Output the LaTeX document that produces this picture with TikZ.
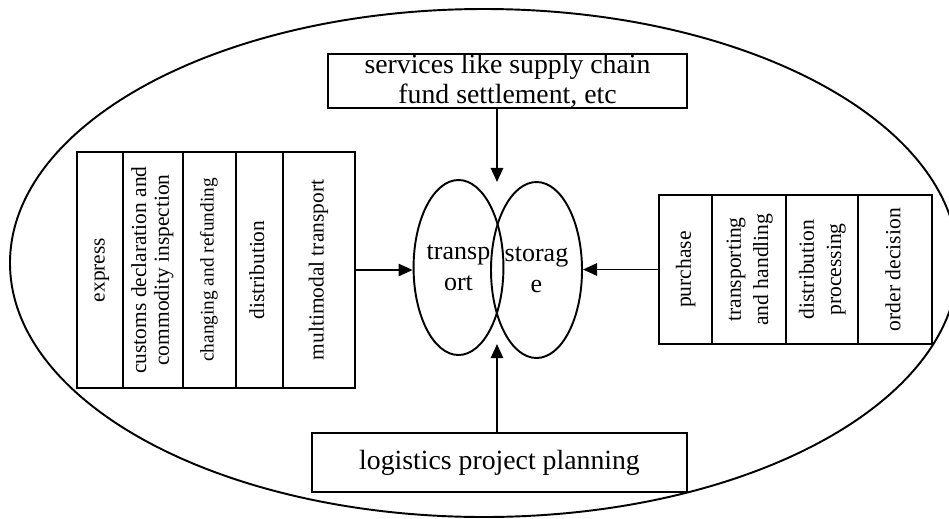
\documentclass[tikz,border=0pt]{standalone}
\usepackage{fontspec}
\setmainfont{Liberation Serif}
\usepackage{tikz}
\usetikzlibrary{arrows.meta,positioning,shapes.geometric}
\newcommand{\pxu}{0.02cm}
\newcommand{\vt}[1]{\rotatebox{90}{\begin{tabular}{@{}c@{}}#1\end{tabular}}}

\begin{document}
\begin{tikzpicture}[x=0.02cm, y=-0.02cm, >={Triangle[length=8pt,width=7pt]}, line width=1.1pt,
  box/.style={draw, outer sep=0pt, inner sep=0pt, align=center},
  col/.style={box, minimum height=236*\pxu, font=\fontsize{12.2}{13}\selectfont},
  rcol/.style={box, minimum height=149*\pxu, font=\fontsize{12.3}{15.5}\selectfont},
  wide/.style={box, font=\fontsize{15.8}{17}\selectfont},
  ring/.style={draw, ellipse, inner sep=0pt, align=center, font=\fontsize{14.8}{17.6}\selectfont}]
  \useasboundingbox (0,0) rectangle (949,518);
  \clip (0,0) rectangle (949,518);
  % outer boundary
  \draw (484,263) ellipse (474 and 254);
  % centre
  \node[ring, minimum width=89*\pxu, minimum height=175*\pxu] (tr) at (458.5,267.5) {transp\\ort};
  \node[ring, minimum width=91*\pxu, minimum height=176*\pxu] (st) at (536.5,270) {storag\\e};
  % top and bottom
  \node[wide, minimum width=359*\pxu, minimum height=50*\pxu] (svc) at (507.5,81) {services like supply chain\\fund settlement, etc};
  \node[wide, minimum width=375*\pxu, minimum height=59*\pxu] (plan) at (499.5,462.5) {logistics project planning};
  % left block
  \node[col, minimum width=46*\pxu, anchor=north west] (exp) at (77,152) {\vt{express}};
  \node[col, minimum width=60*\pxu, right=0pt of exp] (cus) {\vt{customs declaration and\\commodity inspection}};
  \node[col, minimum width=53*\pxu, right=0pt of cus, font=\fontsize{11}{12}\selectfont] (chg) {\vt{changing and refunding}};
  \node[col, minimum width=47*\pxu, right=0pt of chg] (dis) {\vt{distribution}};
  \node[col, minimum width=72*\pxu, right=0pt of dis] (mul) {\vt{multimodal transport}};
  % right block
  \node[rcol, minimum width=53*\pxu, anchor=north west] (pur) at (659,195) {\vt{purchase}};
  \node[rcol, minimum width=74*\pxu, right=0pt of pur] (tah) {\vt{transporting\\and handling}};
  \node[rcol, minimum width=72*\pxu, right=0pt of tah] (dpr) {\vt{distribution\\processing}};
  \node[rcol, minimum width=74*\pxu, right=0pt of dpr] (ord) {\vt{order decision}};
  % arrows
  \coordinate (toptip) at (497,182);
  \coordinate (bottip) at (497,344);
  \draw[->] (svc.south -| toptip) -- (toptip);
  \draw[->] (plan.north -| bottip) -- (bottip);
  \draw[->] (mul.east) -- (mul.east -| tr.west);
  \draw[->] (pur.west) -- (pur.west -| st.east);
\end{tikzpicture}
\end{document}
